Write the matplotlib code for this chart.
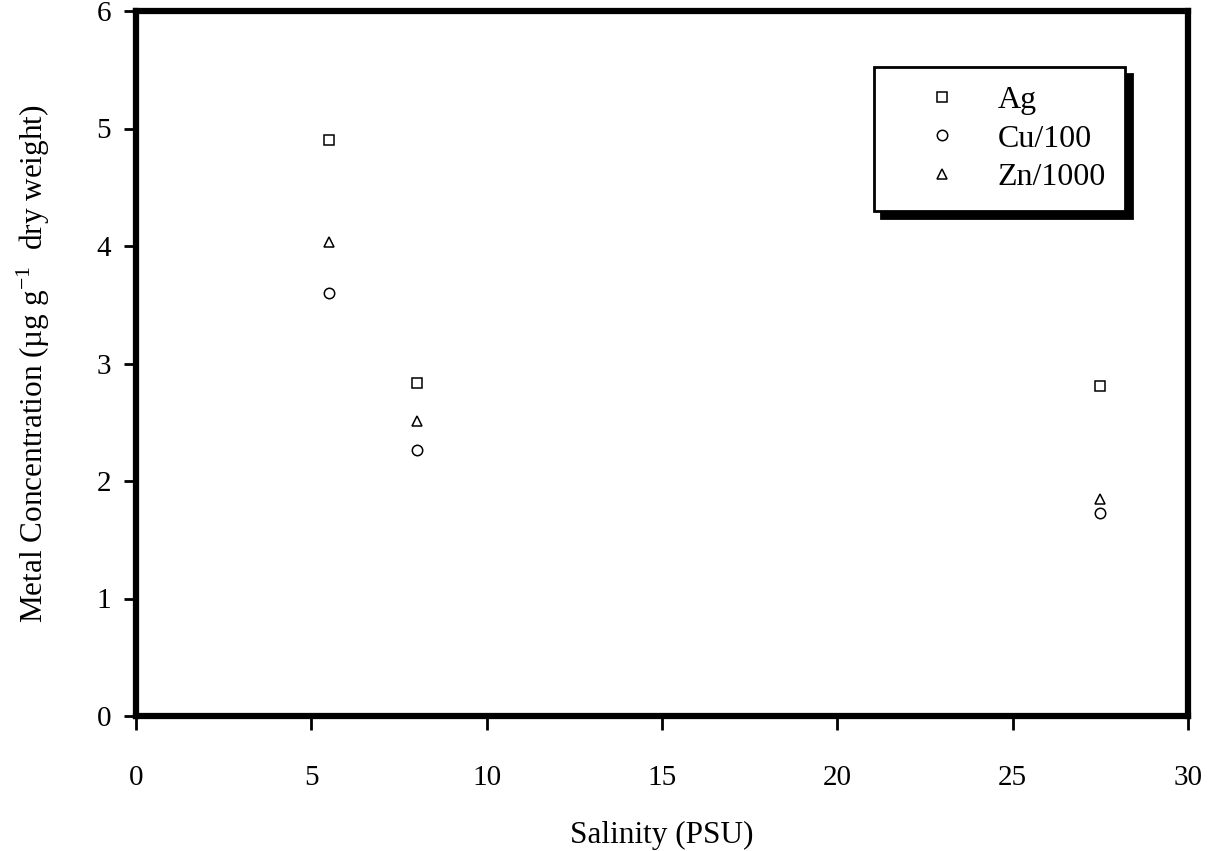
import matplotlib
matplotlib.use("Agg")
import matplotlib.pyplot as plt

salinity = [5.5, 8.0, 27.5]
ag = [4.90, 2.83, 2.81]
cu_100 = [3.60, 2.26, 1.73]
zn_1000 = [4.03, 2.51, 1.85]
x_ticks = [0, 5, 10, 15, 20, 25, 30]
y_ticks = [0, 1, 2, 3, 4, 5, 6]

plt.rcParams['font.family'] = ['Liberation Serif', 'DejaVu Serif']
plt.rcParams['mathtext.fontset'] = 'custom'
plt.rcParams['mathtext.rm'] = 'Liberation Serif'

fig = plt.figure(figsize=(12.19, 8.51), dpi=100)
ax = fig.add_axes([136/1219, 1 - 716/851, 1052/1219, 705/851])

mk = dict(linestyle='none', markerfacecolor='white', markeredgecolor='black',
          markeredgewidth=1.1, clip_on=False)
ax.plot(salinity, ag, marker='s', markersize=7, label='Ag', **mk)
ax.plot(salinity, cu_100, marker='o', markersize=7.5, label='Cu/100', **mk)
ax.plot(salinity, zn_1000, marker='^', markersize=7.5, label='Zn/1000', **mk)

ax.set_xlim(0, 30)
ax.set_ylim(0, 6)
ax.set_xticks(x_ticks)
ax.set_yticks(y_ticks)
for s in ax.spines.values():
    s.set_linewidth(4.5)
    s.set_color('black')
ax.tick_params(axis='x', direction='out', length=10, width=2, pad=25, labelsize=21)
ax.tick_params(axis='y', direction='out', length=9, width=2, pad=9, labelsize=21)

ax.set_xlabel('Salinity (PSU)', fontsize=22.5, labelpad=22)
ax.set_ylabel('Metal Concentration (\u00b5g g$^{\\mathregular{-1}}$  dry weight)',
              fontsize=22.5, labelpad=32)

leg = ax.legend(loc='upper right', bbox_to_anchor=(0.940, 0.921), borderaxespad=0,
                fontsize=23, frameon=True, fancybox=False, edgecolor='black',
                shadow={'ox': 5, 'oy': -5, 'color': 'black', 'alpha': 1},
                handletextpad=0.25, borderpad=0.6, labelspacing=0.28,
                handlelength=3.0, markerscale=1.0)
leg.get_frame().set_linewidth(2)
leg.get_frame().set_facecolor('white')
leg.get_frame().set_alpha(1)

fig.savefig('out.png', dpi=100, facecolor='white')
